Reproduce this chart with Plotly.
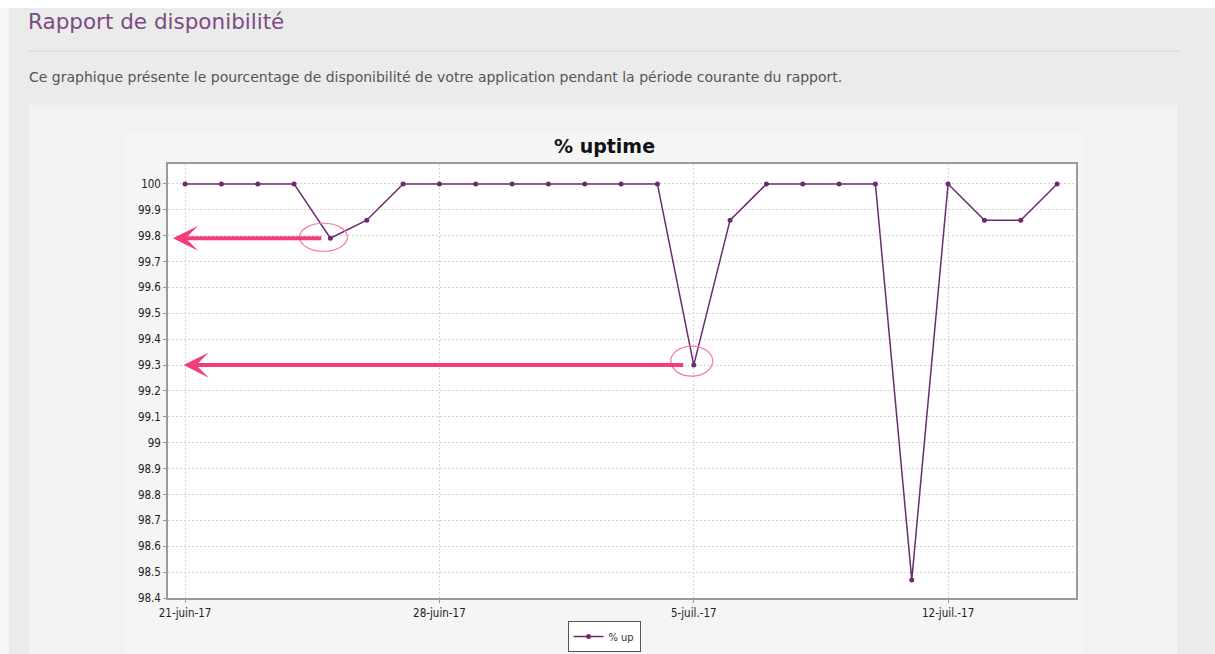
import plotly.graph_objects as go

# ---- data ----
dates = [
    "2017-06-21", "2017-06-22", "2017-06-23", "2017-06-24", "2017-06-25",
    "2017-06-26", "2017-06-27", "2017-06-28", "2017-06-29", "2017-06-30",
    "2017-07-01", "2017-07-02", "2017-07-03", "2017-07-04", "2017-07-05",
    "2017-07-06", "2017-07-07", "2017-07-08", "2017-07-09", "2017-07-10",
    "2017-07-11", "2017-07-12", "2017-07-13", "2017-07-14", "2017-07-15",
]
uptime = [
    100, 100, 100, 100, 99.79,
    99.86, 100, 100, 100, 100,
    100, 100, 100, 100, 99.30,
    99.86, 100, 100, 100, 100,
    98.47, 100, 99.86, 99.86, 100,
]
x_tick_vals = ["2017-06-21", "2017-06-28", "2017-07-05", "2017-07-12"]
x_tick_text = ["21-juin-17", "28-juin-17", "5-juil.-17", "12-juil.-17"]
y_tick_vals = [98.4, 98.5, 98.6, 98.7, 98.8, 98.9, 99.0, 99.1, 99.2, 99.3,
               99.4, 99.5, 99.6, 99.7, 99.8, 99.9, 100.0]
y_tick_text = ["98.4", "98.5", "98.6", "98.7", "98.8", "98.9", "99", "99.1",
               "99.2", "99.3", "99.4", "99.5", "99.6", "99.7", "99.8", "99.9", "100"]
highlight_idx = [4, 14]  # points called out with arrows

W, H = 1215, 654
def px(x):
    return x / W
def py(y):
    return 1 - y / H

PURPLE = "#6a2c6e"
PINK = "#f23d78"
TICKFONT = dict(family="DejaVu Sans Condensed, DejaVu Sans", size=11.5, color="#222222")

fig = go.Figure()
fig.add_trace(go.Scatter(
    x=dates, y=uptime, mode="lines+markers", name="% up",
    line=dict(color=PURPLE, width=1.5),
    marker=dict(color=PURPLE, size=5),
))

shapes = [
    # light strips at edge of screenshot
    dict(type="rect", xref="paper", yref="paper", x0=0, x1=px(9), y0=0, y1=1,
         fillcolor="#f7f7f7", line_width=0, layer="below"),
    dict(type="rect", xref="paper", yref="paper", x0=0, x1=1, y0=py(8), y1=1,
         fillcolor="#ffffff", line_width=0, layer="below"),
    # separator
    dict(type="line", xref="paper", yref="paper", x0=px(28), x1=px(1180),
         y0=py(51), y1=py(51), line=dict(color="#d6d6d6", width=1), layer="below"),
    # panel
    dict(type="rect", xref="paper", yref="paper", x0=px(28), x1=px(1178),
         y0=py(670), y1=py(104), fillcolor="#f2f2f2",
         line=dict(color="#e6e6e6", width=1), layer="below"),
    # chart image background
    dict(type="rect", xref="paper", yref="paper", x0=px(125), x1=px(1083),
         y0=py(670), y1=py(133), fillcolor="#f5f5f5", line_width=0, layer="below"),
    # white plotting area
    dict(type="rect", xref="paper", yref="paper", x0=px(168), x1=px(1076),
         y0=py(598), y1=py(164), fillcolor="#ffffff", line_width=0, layer="below"),
]

# ellipses around highlighted points (anchored at data points, pixel sizes)
ell = [(-7, 1, 24, 14), (-2, 4, 21, 15)]
for i, (dx, dy, rx, ry) in zip(highlight_idx, ell):
    shapes.append(dict(
        type="circle", xref="x", yref="y", xsizemode="pixel", ysizemode="pixel",
        xanchor=dates[i], yanchor=uptime[i],
        x0=dx - rx, x1=dx + rx, y0=dy - ry, y1=dy + ry,
        line=dict(color="#f47aa0", width=1.2), fillcolor="rgba(0,0,0,0)",
    ))

annotations = [
    dict(text="Rapport de disponibilité", xref="paper", yref="paper",
         x=px(26), y=py(22), xanchor="left", yanchor="middle", showarrow=False,
         font=dict(family="DejaVu Sans", size=21.5, color="#7d4a84")),
    dict(text="Ce graphique présente le pourcentage de disponibilité de votre application pendant la période courante du rapport.",
         xref="paper", yref="paper", x=px(27), y=py(77), xanchor="left",
         yanchor="middle", showarrow=False,
         font=dict(family="DejaVu Sans", size=14, color="#555555")),
    dict(text="<b>% uptime</b>", xref="paper", yref="paper", x=px(604), y=py(146),
         xanchor="center", yanchor="middle", showarrow=False,
         font=dict(family="DejaVu Sans, sans-serif", size=19, color="#111111")),
]

# arrows pointing at the y axis
arrow_tail = ["2017-06-24 19:00", "2017-07-04 18:00"]
arrow_head = ["2017-06-20 16:00", "2017-06-20 23:00"]
for i, tail, head in zip(highlight_idx, arrow_tail, arrow_head):
    annotations.append(dict(
        x=head, y=uptime[i], xref="x", yref="y",
        ax=tail, ay=uptime[i], axref="x", ayref="y",
        showarrow=True, arrowhead=3, arrowwidth=4, arrowsize=1.05,
        arrowcolor=PINK, text="",
    ))

fig.update_layout(
    width=W, height=H, autosize=False,
    margin=dict(l=0, r=0, t=0, b=0, pad=0, autoexpand=False),
    paper_bgcolor="#ebebeb",
    plot_bgcolor="#ffffff",
    shapes=shapes,
    annotations=annotations,
    showlegend=True,
    legend=dict(x=px(604), y=py(621), xanchor="center", yanchor="top",
                orientation="h", bgcolor="#ffffff", bordercolor="#555555",
                borderwidth=1, itemwidth=30,
                font=dict(family="DejaVu Sans Condensed, DejaVu Sans", size=11, color="#333333")),
    xaxis=dict(
        domain=[px(168), px(1076)],
        type="date",
        range=["2017-06-20 12:43", "2017-07-15 12:29"],
        tickmode="array", tickvals=x_tick_vals, ticktext=x_tick_text,
        showgrid=True, gridcolor="#d4d4d4", griddash="2px,2px", gridwidth=1,
        showline=True, linecolor="#9a9a9a", linewidth=1.5, mirror=True,
        ticks="outside", ticklen=3, tickcolor="#9a9a9a",
        tickfont=TICKFONT, automargin=False,
        zeroline=False,
    ),
    yaxis=dict(
        domain=[py(598), py(164)],
        range=[98.4, 100.077],
        tickmode="array", tickvals=y_tick_vals, ticktext=y_tick_text,
        showgrid=True, gridcolor="#d4d4d4", griddash="2px,2px", gridwidth=1,
        showline=True, linecolor="#9a9a9a", linewidth=1.5, mirror=True,
        ticks="outside", ticklen=3, tickcolor="#9a9a9a",
        tickfont=TICKFONT, automargin=False,
        zeroline=False,
    ),
)

fig.write_html(
    "out.html",
    config=dict(displayModeBar=False, responsive=False),
    post_script="document.body.style.margin='0';document.body.style.overflow='hidden';",
)
